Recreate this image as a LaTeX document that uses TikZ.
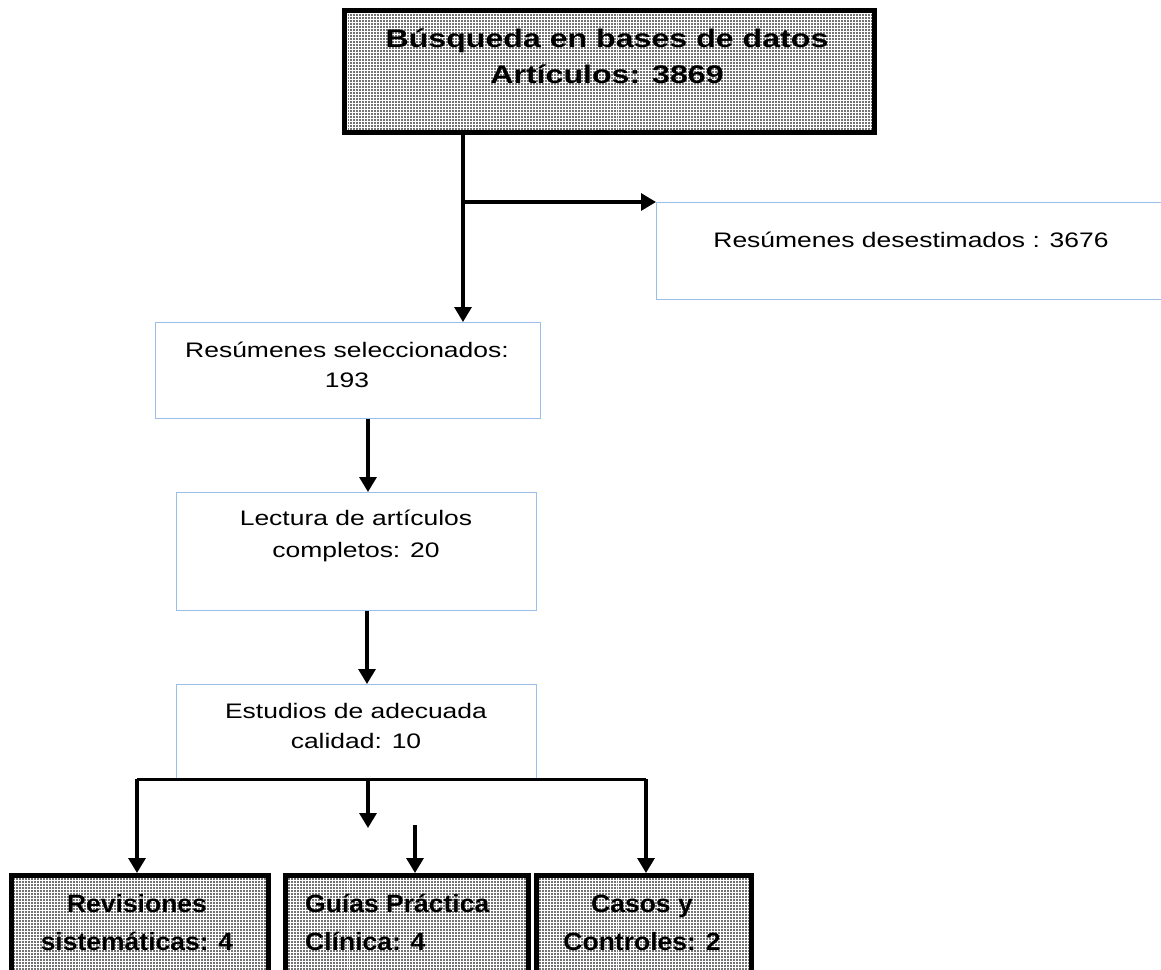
\documentclass[tikz,border=0pt]{standalone}
\usepackage{fontspec}
\setmainfont{Liberation Sans}
\newfontfamily\widefont[FakeStretch=1.26]{Liberation Sans}
\newfontfamily\botfont[FakeStretch=1.06]{Liberation Sans}
\usetikzlibrary{arrows.meta,patterns}
\definecolor{boxblue}{RGB}{155,190,232}
\begin{document}
\begin{tikzpicture}[x=1bp,y=-1bp,
  bluebox/.style={draw=boxblue, line width=1.4bp, fill=white, inner sep=0, anchor=north west},
  darkbox/.style={draw=black, line width=4.5bp, preaction={fill=black!55}, pattern=grid, pattern color=white, inner sep=0, anchor=north west},
  normtxt/.style={font=\widefont\fontsize{21bp}{31bp}\selectfont, align=center, inner sep=0, anchor=base},
  boldtop/.style={font=\widefont\bfseries\fontsize{25.5bp}{36bp}\selectfont, align=center, inner sep=0, anchor=base},
  boldbot/.style={font=\botfont\bfseries\fontsize{25bp}{38bp}\selectfont, align=center, inner sep=0, anchor=base},
  arr/.style={line width=3.2bp, -{Triangle[width=17bp,length=15bp]}},
  busline/.style={line width=3bp}]
\useasboundingbox (0,0) rectangle (1161,970);
\fill[white] (0,0) rectangle (1161,970);
% boxes
\node[darkbox, minimum width=530bp, minimum height=122bp] (top) at (342,8) {};
\node[bluebox, minimum width=520bp, minimum height=97bp] (des) at (656,202) {};
\node[bluebox, minimum width=385bp, minimum height=96bp] (sel) at (155,322) {};
\node[bluebox, minimum width=360bp, minimum height=118bp] (lec) at (176,492) {};
\node[bluebox, minimum width=360bp, minimum height=95bp] (est) at (176,684) {};
\node[darkbox, minimum width=257bp, minimum height=125bp] (rev) at (9,873) {};
\node[darkbox, minimum width=243bp, minimum height=125bp] (gui) at (283,873) {};
\node[darkbox, minimum width=215bp, minimum height=125bp] (cas) at (534,873) {};
% texts (anchor base = baseline of last line)
\node[boldtop] (topT) at (607,83) {Búsqueda en bases de datos\\Artículos: 3869};
\node[normtxt] (desT) at (911,247) {Resúmenes desestimados : 3676};
\node[normtxt, font=\widefont\fontsize{21bp}{30bp}\selectfont] (selT) at (347,387) {Resúmenes seleccionados:\\193};
\node[normtxt, font=\widefont\fontsize{21bp}{32bp}\selectfont] (lecT) at (356,557) {Lectura de artículos\\completos: 20};
\node[normtxt, font=\widefont\fontsize{21bp}{30bp}\selectfont] (estT) at (356,748) {Estudios de adecuada\\calidad: 10};
\node[boldbot] (revT) at (137,950) {Revisiones\\sistemáticas: 4};
\node[boldbot, align=left, anchor=base west] (guiT) at (305,950) {Guías Práctica\\Clínica: 4};
\node[boldbot] (casT) at (642,950) {Casos y\\Controles: 2};
% connectors
\coordinate (x1) at (463,202);
\coordinate (x2) at (368,450);
\coordinate (x3) at (367,650);
\coordinate (bl) at (137,779);
\coordinate (br) at (646,779);
\coordinate (bm) at (368,779);
\coordinate (me) at (368,828);
\coordinate (gs) at (415,825);
\draw[arr] (top.south -| x1) -- (sel.north -| x1);
\draw[arr] (x1) -- (des.north west);
\draw[arr] (sel.south -| x2) -- (lec.north -| x2);
\draw[arr] (lec.south -| x3) -- (est.north -| x3);
\draw[busline] (bl) -- (br);
\draw[arr] (bl) -- (rev.north -| bl);
\draw[arr] (br) -- (cas.north -| br);
\draw[arr] (bm) -- (me);
\draw[arr] (gs) -- (gui.north -| gs);
\end{tikzpicture}
\end{document}
